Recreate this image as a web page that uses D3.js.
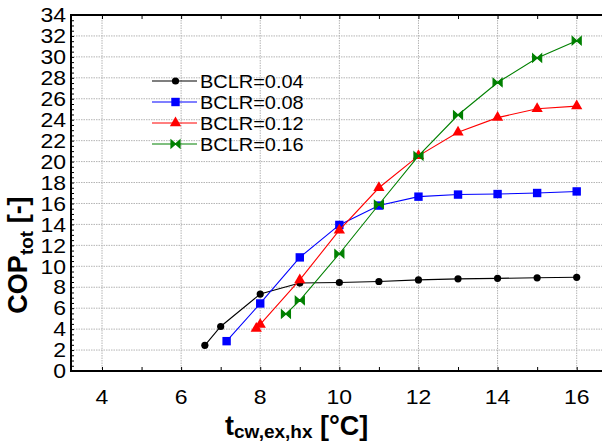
<!DOCTYPE html>
<html><head><meta charset="utf-8">
<script src="https://cdn.jsdelivr.net/npm/d3@7"></script>
<style>
body{margin:0;background:#fff;}
svg text{font-family:"Liberation Sans",Arial,sans-serif;fill:#000;}
</style></head>
<body><svg id="c" width="602" height="443"></svg>
<script>
const xTicks = [4,6,8,10,12,14,16];
const yTicks = [0,2,4,6,8,10,12,14,16,18,20,22,24,26,28,30,32,34];
const seriesNames = ["BCLR=0.04","BCLR=0.08","BCLR=0.12","BCLR=0.16"];
const seriesColors = ["#000000","#0000ff","#ff0000","#008000"];
const x004 = [6.6,7.0,8.0,9.0,10,11,12,13,14,15,16];
const y004 = [2.45,4.25,7.35,8.4,8.45,8.55,8.7,8.8,8.85,8.9,8.95];
const x008 = [7.15,8.0,9.0,10,11,12,13,14,15,16];
const y008 = [2.85,6.45,10.85,13.95,15.8,16.65,16.85,16.9,17.0,17.15];
const x012 = [7.9,8.0,9.0,10,11,12,13,14,15,16];
const y012 = [4.05,4.45,8.7,13.45,17.5,20.55,22.8,24.2,25.05,25.3];
const x016 = [8.65,9.0,10,11,12,13,14,15,16];
const y016 = [5.45,6.75,11.2,15.9,20.55,24.45,27.55,29.9,31.55];
const seriesX = [x004,x008,x012,x016];
const seriesY = [y004,y008,y012,y016];

const svg = d3.select("#c");
const L = 71, R = 602, T = 15, B = 371;
const x = d3.scaleLinear().domain([4,16]).range([102,576.7]);
const y = d3.scaleLinear().domain([0,34]).range([B,T]);

// grid
const g = svg.append("g");
g.selectAll("line.h").data(yTicks.filter(d=>d>0&&d<34)).join("line")
 .attr("x1",L).attr("x2",R).attr("y1",d=>y(d)).attr("y2",d=>y(d))
 .attr("stroke","#b4b4b4").attr("stroke-width",1).attr("stroke-dasharray","1.5,1");
g.selectAll("line.v").data(xTicks).join("line")
 .attr("y1",T).attr("y2",B).attr("x1",d=>x(d)).attr("x2",d=>x(d))
 .attr("stroke","#b4b4b4").attr("stroke-width",1).attr("stroke-dasharray","1.5,1");

// axes
const xAll = d3.range(4,17,1);
const yMinor = d3.range(0,34.01,0.5);
svg.append("g").attr("transform",`translate(0,${B})`)
 .call(d3.axisBottom(x).tickValues(xAll).tickSize(-4).tickFormat(""))
 .call(a=>a.select(".domain").remove());
svg.append("g").attr("transform",`translate(0,${T})`)
 .call(d3.axisTop(x).tickValues(xAll).tickSize(-4).tickFormat(""))
 .call(a=>a.select(".domain").remove());
svg.append("g").attr("transform",`translate(${L},0)`)
 .call(d3.axisLeft(y).tickValues(yMinor).tickSize(-3).tickFormat(""))
 .call(a=>a.select(".domain").remove());
svg.append("line").attr("x1",L).attr("x2",R).attr("y1",B).attr("y2",B).attr("stroke","#000").attr("stroke-width",2);
svg.append("line").attr("x1",L).attr("x2",R).attr("y1",T).attr("y2",T).attr("stroke","#000").attr("stroke-width",2);
svg.append("line").attr("x1",L).attr("x2",L).attr("y1",T-1).attr("y2",B+1).attr("stroke","#000").attr("stroke-width",2);

// tick labels
svg.append("g").selectAll("text").data(yTicks).join("text")
 .attr("transform",d=>`translate(66,${y(d)}) scale(1.15,1)`)
 .attr("text-anchor","end").attr("dy","0.36em").style("font-size","20px").text(d=>d);
svg.append("g").selectAll("text").data(xTicks).join("text")
 .attr("transform",d=>`translate(${x(d)},404) scale(1.15,1)`)
 .attr("text-anchor","middle").style("font-size","20px").text(d=>d);

// series
const markerBowtie = "M-4.5,-4 L0,0 L-4.5,4 Z M4.5,-4 L0,0 L4.5,4 Z M-4.5,-4 L-4.5,4 M4.5,-4 L4.5,4";
function drawMarker(sel, i){
  const c = seriesColors[i];
  if(i===0) sel.append("circle").attr("r",3.6).attr("fill",c);
  else if(i===1) sel.append("rect").attr("x",-4.2).attr("y",-4.2).attr("width",8.4).attr("height",8.4).attr("fill",c);
  else if(i===2) sel.append("path").attr("d",d3.symbol(d3.symbolTriangle,55)()).attr("fill",c);
  else sel.append("path").attr("d",markerBowtie).attr("fill",c).attr("stroke",c).attr("stroke-width",1.2);
}
const line = d3.line().x(d=>x(d[0])).y(d=>y(d[1]));
seriesX.forEach((xs,i)=>{
  const pts = xs.map((v,k)=>[v,seriesY[i][k]]);
  svg.append("path").datum(pts).attr("d",line).attr("fill","none")
   .attr("stroke",seriesColors[i]).attr("stroke-width",1.1);
  pts.forEach(p=>{
    const m = svg.append("g").attr("transform",`translate(${x(p[0])},${y(p[1])})`);
    drawMarker(m,i);
  });
});

// legend
const legY = [81,102,123,144];
seriesNames.forEach((n,i)=>{
  svg.append("line").attr("x1",152).attr("x2",197).attr("y1",legY[i]).attr("y2",legY[i])
   .attr("stroke",seriesColors[i]).attr("stroke-width",1.1);
  const m = svg.append("g").attr("transform",`translate(175.5,${legY[i]})`);
  drawMarker(m,i);
  svg.append("text").attr("transform",`translate(200,${legY[i]}) scale(1.05,1)`)
   .attr("dy","0.36em").style("font-size","19px").text(n);
});

// axis titles
const xt = svg.append("text").attr("x",225).attr("y",435).style("font-size","27px").style("font-weight","bold");
xt.append("tspan").text("t");
xt.append("tspan").attr("dy",3).style("font-size","19px").text("cw,ex,hx");
xt.append("tspan").attr("dy",-3).text(" [°C]");
const yt = svg.append("text").attr("transform","translate(27,255) rotate(-90)").attr("text-anchor","middle")
 .style("font-size","27px").style("font-weight","bold");
yt.append("tspan").text("COP");
yt.append("tspan").attr("dy",6).style("font-size","19px").text("tot");
yt.append("tspan").attr("dy",-6).text(" [-]");
</script></body></html>
